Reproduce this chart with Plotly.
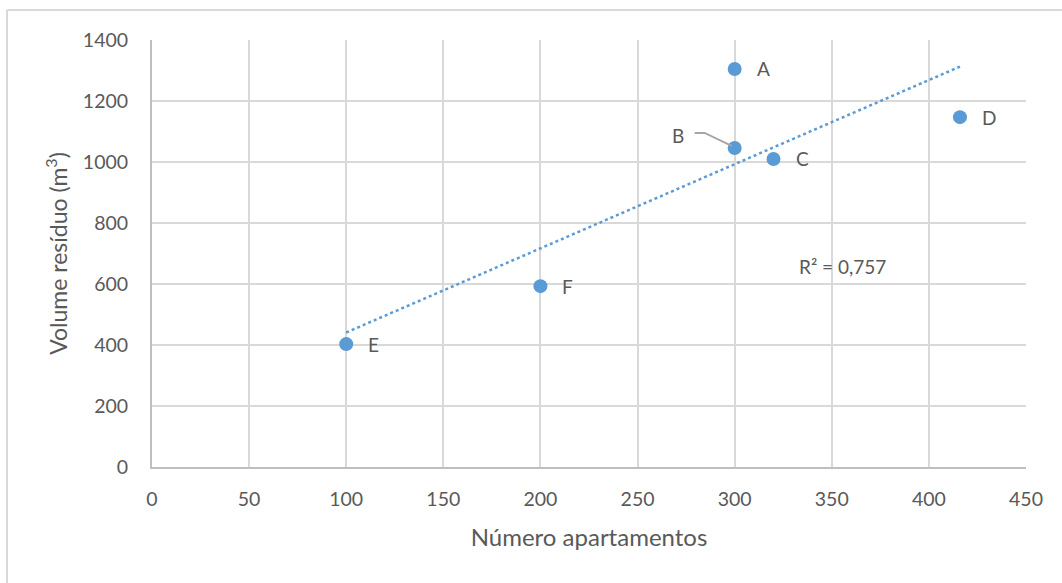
import numpy as np
import plotly.graph_objects as go

# Data: number of apartments vs. waste volume
labels = ["A", "B", "C", "D", "E", "F"]
apartamentos = [300, 300, 320, 416, 100, 200]
volume = [1305, 1046, 1010, 1147, 403, 593]

x_ticks = [0, 50, 100, 150, 200, 250, 300, 350, 400, 450]
y_ticks = [0, 200, 400, 600, 800, 1000, 1200, 1400]

BLUE = "#5b9bd5"
TXT = "#595959"
FONT = "Lato"

# Linear trendline (least squares)
slope, intercept = np.polyfit(apartamentos, volume, 1)
x_fit = np.array([min(apartamentos), max(apartamentos)])
y_fit = slope * x_fit + intercept

fig = go.Figure()
fig.add_trace(go.Scatter(
    x=x_fit, y=y_fit, mode="lines",
    line=dict(color=BLUE, width=2.5, dash="dot"),
    hoverinfo="skip", showlegend=False,
))
fig.add_trace(go.Scatter(
    x=apartamentos, y=volume, mode="markers",
    marker=dict(color=BLUE, size=14),
    text=labels, showlegend=False,
))

# Point labels
for lab, xv, yv in zip(labels, apartamentos, volume):
    if lab == "B":
        fig.add_annotation(x=xv, y=yv, text=lab, showarrow=False,
                           xanchor="right", yanchor="middle",
                           xshift=-49, yshift=12,
                           font=dict(family=FONT, size=19, color=TXT))
        # elbow leader line from the label to the point
        fig.add_shape(type="path", xref="x", yref="y",
                      xsizemode="pixel", ysizemode="pixel",
                      xanchor=xv, yanchor=yv,
                      path="M -40,15 L -30,15 L -3,2",
                      line=dict(color="#a6a6a6", width=2))
    else:
        fig.add_annotation(x=xv, y=yv, text=lab, showarrow=False,
                           xanchor="left", yanchor="middle", xshift=20,
                           font=dict(family=FONT, size=19, color=TXT))

fig.add_annotation(x=332, y=659, text="R² = 0,757", showarrow=False,
                   xanchor="left", yanchor="middle",
                   font=dict(family=FONT, size=19, color=TXT))

# Outer chart border (top and left edges)
fig.add_shape(type="line", xref="paper", yref="paper",
              x0=-145/874, x1=1.2, y0=(467-10)/427, y1=(467-10)/427,
              line=dict(color="#d9d9d9", width=2))
fig.add_shape(type="line", xref="paper", yref="paper",
              x0=-145/874, x1=-145/874, y0=(467-10)/427, y1=-0.5,
              line=dict(color="#d9d9d9", width=2))

axis_common = dict(
    showgrid=True, gridcolor="#d9d9d9", gridwidth=2,
    zeroline=False, showline=True, linecolor="#bfbfbf", linewidth=2,
    ticks="", tickfont=dict(family=FONT, size=19.5, color=TXT),
)

fig.update_xaxes(range=[0, 450], tickvals=x_ticks, ticklabelstandoff=14,
                 title=dict(text="Número apartamentos", standoff=20,
                            font=dict(family=FONT, size=24, color=TXT)),
                 **axis_common)
fig.update_yaxes(range=[0, 1400], tickvals=y_ticks, ticklabelstandoff=18,
                 title=dict(text="Volume resíduo (m<sup>3</sup>)", standoff=9,
                            font=dict(family=FONT, size=23, color=TXT)),
                 **axis_common)

fig.update_layout(
    width=1062, height=583,
    margin=dict(l=152, r=36, t=40, b=116),
    plot_bgcolor="white", paper_bgcolor="white",
)

fig.write_html("out.html")
